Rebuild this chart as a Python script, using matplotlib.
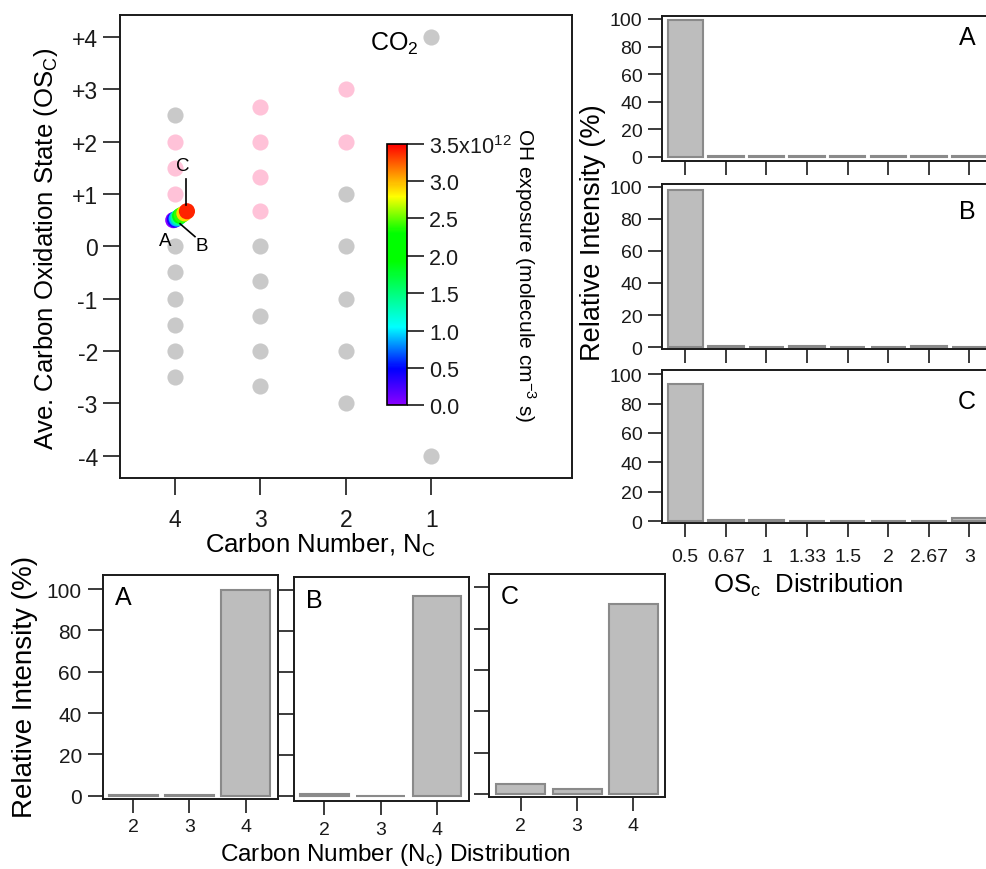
import matplotlib
matplotlib.use("Agg")
import matplotlib.pyplot as plt
from matplotlib.colors import LinearSegmentedColormap, Normalize
from matplotlib.cm import ScalarMappable
import numpy as np

plt.rcParams['font.family'] = ['Liberation Sans', 'DejaVu Sans']
plt.rcParams['mathtext.fontset'] = 'custom'
plt.rcParams['mathtext.rm'] = 'Liberation Sans'
plt.rcParams['mathtext.it'] = 'Liberation Sans:italic'
plt.rcParams['axes.linewidth'] = 1.4

# --- data -------------------------------------------------------------
nc_gray = [4, 4, 4, 4, 4, 4, 4, 3, 3, 3, 3, 3, 2, 2, 2, 2, 2, 1, 1]
os_gray = [2.5, 0, -0.5, -1, -1.5, -2, -2.5, 0, -0.67, -1.33, -2, -2.67,
           1, 0, -1, -2, -3, 4, -4]
nc_pink = [4, 4, 4, 3, 3, 3, 3, 2, 2]
os_pink = [2, 1.5, 1, 2.67, 2, 1.33, 0.67, 3, 2]

# average NC / OSC of the product mixture at increasing OH exposure
oh_exposure = [0.0, 0.4, 0.9, 1.4, 1.9, 2.4, 2.9, 3.4]
nc_mix = [4.02, 4.00, 3.98, 3.96, 3.94, 3.92, 3.89, 3.86]
os_mix = [0.50, 0.51, 0.53, 0.55, 0.58, 0.60, 0.63, 0.67]

osc_labels = ['0.5', '0.67', '1', '1.33', '1.5', '2', '2.67', '3']
osc_A = [99.3, 0.3, 0.3, 0.3, 0.3, 0.3, 0.3, 0.3]
osc_B = [97.6, 1.0, 0.2, 1.0, 0.2, 0.3, 0.8, 0.3]
osc_C = [93.0, 0.8, 0.8, 0.6, 0.3, 0.3, 0.3, 2.5]

nc_labels = ['2', '3', '4']
nc_A = [0.5, 0.5, 99.7]
nc_B = [1.0, 0.1, 96.8]
nc_C = [4.8, 2.4, 92.0]

GRAY = '#c9c9c9'
PINK = '#ffc2d8'
BAR_FACE = '#bdbdbd'
BAR_EDGE = '#8a8a8a'
INK = '#1a1a1a'

W, H = 987, 870
fig = plt.figure(figsize=(W / 100, H / 100), dpi=100)


def px_axes(left, top, right, bottom):
    return fig.add_axes([left / W, 1 - bottom / H, (right - left) / W, (bottom - top) / H])


cmap = LinearSegmentedColormap.from_list('igor_rainbow', [
    (0.00, '#8a00ff'), (0.14, '#0000ff'), (0.30, '#00ffff'),
    (0.55, '#00ff00'), (0.66, '#00ff00'), (0.80, '#ffff00'), (1.00, '#ff0000')])
norm = Normalize(0, 3.5)

# --- main scatter -------------------------------------------------------
ax = px_axes(120, 16, 572, 478.6)
ax.scatter(nc_gray, os_gray, s=135, color=GRAY, lw=0, zorder=2)
ax.scatter(nc_pink, os_pink, s=135, color=PINK, lw=0, zorder=2)
ax.scatter(nc_mix, os_mix, s=135, c=oh_exposure, cmap=cmap, norm=norm, lw=0, zorder=3)
ax.set_xlim(4.643, -0.644)
ax.set_ylim(-4.42, 4.42)
ax.set_xticks([4, 3, 2, 1])
ax.set_yticks(range(-4, 5))
ax.set_yticklabels(['+%d' % v if v > 0 else str(v) for v in range(-4, 5)])
ax.tick_params(axis='y', direction='out', length=12, width=1.2, pad=4, labelsize=16.5, colors=INK)
ax.tick_params(axis='x', direction='out', length=12, width=1.2, pad=10, labelsize=16.5, colors=INK)
for sp in ax.spines.values():
    sp.set_color(INK)

ax.text(4.117, 0.109, 'A', fontsize=13.5, ha='center', va='center')
ax.text(3.688, 0.019, 'B', fontsize=13.5, ha='center', va='center')
ax.text(3.906, 1.54, 'C', fontsize=13.5, ha='center', va='center')
ax.plot([3.875, 3.875], [1.29, 0.78], color='black', lw=1.2, zorder=4)
ax.plot([3.94, 3.766], [0.43, 0.185], color='black', lw=1.2, zorder=4)
ax.text(1.43, 3.88, 'CO$_2$', fontsize=18, ha='center', va='center')

cax = px_axes(387.5, 144.6, 407, 406.4)
cb = fig.colorbar(ScalarMappable(norm=norm, cmap=cmap), cax=cax)
cb.outline.set_linewidth(1.2)
cb.set_ticks([0, 0.5, 1.0, 1.5, 2.0, 2.5, 3.0, 3.5])
cb.set_ticklabels(['0.0', '0.5', '1.0', '1.5', '2.0', '2.5', '3.0', '3.5x10$^{12}$'])
cax.tick_params(direction='out', length=12, width=1.2, pad=4, labelsize=15.5, colors=INK)
fig.text(525 / W, 1 - 275 / H, 'OH exposure (molecule cm$^{-3}$ s)', rotation=-90,
         ha='center', va='center', fontsize=15)

fig.text(46 / W, 1 - 249 / H, 'Ave. Carbon Oxidation State (OS$_\\mathrm{C}$)', rotation=90,
         ha='center', va='center', fontsize=18.5)
fig.text(320 / W, 1 - 545 / H, 'Carbon Number, N$_\\mathrm{C}$', ha='center', va='center', fontsize=18.5)

# --- OSc distribution panels (top right) --------------------------------
osc_x = np.arange(len(osc_labels))
left_px = 661.7
right_px = left_px + 40.6 * (7.75 + 0.58)
panels = [
    (osc_A, 'A', 17.2, 161.5, (-2.76, 102.0), 38),
    (osc_B, 'B', 184.5, 350.0, (-1.06, 101.9), 212),
    (osc_C, 'C', 371.2, 524.3, (-1.29, 102.6), 402),
]
for i, (vals, lab, top, bot, ylim, ylab) in enumerate(panels):
    a = px_axes(left_px, top, right_px, bot)
    a.bar(osc_x, vals, width=0.87, color=BAR_FACE, edgecolor=BAR_EDGE, lw=1.5)
    a.set_xlim(-0.58, 7.75)
    a.set_ylim(*ylim)
    a.set_yticks([0, 20, 40, 60, 80, 100])
    a.set_xticks(osc_x)
    a.tick_params(axis='y', direction='out', length=10, width=1.2, pad=4, labelsize=14, colors=INK)
    a.tick_params(axis='x', direction='out', length=10, width=1.2, pad=8, labelsize=14, colors=INK)
    if i < 2:
        a.set_xticklabels([])
    else:
        a.set_xticklabels(osc_labels)
    for sp in a.spines.values():
        sp.set_color(INK)
    fig.text(967 / W, 1 - ylab / H, lab, ha='center', va='center', fontsize=18)

fig.text(593 / W, 1 - 233 / H, 'Relative Intensity (%)', rotation=90, ha='center', va='center', fontsize=19.5)
fig.text(808 / W, 1 - 585.5 / H, 'OS$_\\mathrm{c}$  Distribution', ha='center', va='center', fontsize=18.5)

# --- Nc distribution panels (bottom) ------------------------------------
nc_x = np.arange(len(nc_labels))
bottom_panels = [
    (nc_A, 'A', 102.6, 576.0, 278.2, 800.0, (-1.6, 106.8), (-0.544, 2.578), True),
    (nc_B, 'B', 293.5, 578.3, 468.8, 802.3, (-2.4, 106.0), (-0.55, 2.565), False),
    (nc_C, 'C', 489.0, 575.0, 665.0, 798.3, (-1.6, 106.4), (-0.563, 2.56), False),
]
for vals, lab, l, t, r, b, ylim, xlim, show_y in bottom_panels:
    a = px_axes(l, t, r, b)
    a.bar(nc_x, vals, width=0.87, color=BAR_FACE, edgecolor=BAR_EDGE, lw=1.5)
    a.set_xlim(*xlim)
    a.set_ylim(*ylim)
    a.set_yticks([0, 20, 40, 60, 80, 100])
    a.set_xticks(nc_x)
    a.set_xticklabels(nc_labels)
    a.tick_params(axis='y', direction='out', length=11, width=1.2, pad=4, labelsize=15,
                  colors=INK, labelleft=show_y)
    a.tick_params(axis='x', direction='out', length=10, width=1.2, pad=4, labelsize=14, colors=INK)
    for sp in a.spines.values():
        sp.set_color(INK)
    a.text(0.12, 0.9, lab, transform=a.transAxes, ha='center', va='center', fontsize=18)

fig.text(25 / W, 1 - 686.7 / H, 'Relative Intensity (%)', rotation=90, ha='center', va='center', fontsize=20)
fig.text(395 / W, 1 - 855 / H, 'Carbon Number (N$_\\mathrm{c}$) Distribution', ha='center', va='center',
         fontsize=17.5)

fig.savefig('out.png', dpi=100)
